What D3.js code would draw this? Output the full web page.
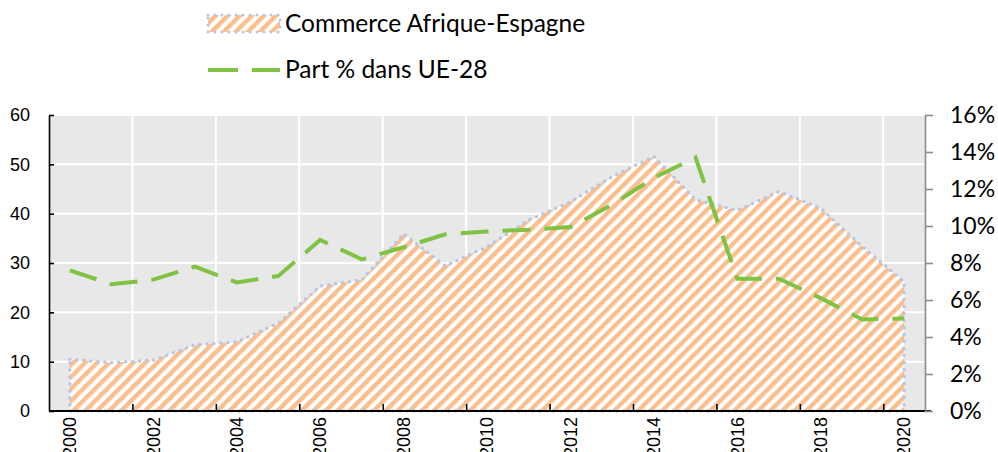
<!DOCTYPE html>
<html>
<head>
<meta charset="utf-8">
<script src="https://cdn.jsdelivr.net/npm/d3@7"></script>
<style>
  body { margin: 0; background: #fff; }
  svg { display: block; }
</style>
</head>
<body>
<div id="chart"></div>
<script>
// years on the category axis
const years = d3.range(2000, 2021)
// Commerce Afrique-Espagne (left axis)
const commerce = [10.5, 9.8, 10.3, 13.4, 14.0, 17.8, 25.3, 26.6, 35.9, 29.4, 33.3,
                  38.7, 42.4, 47.5, 51.6, 42.8, 40.7, 44.5, 41.1, 33.3, 26.2]
// Part % dans UE-28 (right axis)
const part = [7.6, 6.85, 7.1, 7.8, 6.95, 7.3, 9.25, 8.2, 8.85, 9.55, 9.7,
              9.8, 9.95, 11.15, 12.6, 13.7, 7.15, 7.15, 6.1, 4.95, 5.0]
const leftTicks = [0, 10, 20, 30, 40, 50, 60]
const rightTicks = [0, 2, 4, 6, 8, 10, 12, 14, 16]
const legendLabels = ["Commerce Afrique-Espagne", "Part % dans UE-28"]

const W = 998, H = 452
const plot = {left: 49, right: 925, top: 115, bottom: 411}
const green = "#80c242", orange = "#fbbf8e", dotBlue = "#b4c7e7"

const svg = d3.select("#chart").append("svg")
    .attr("width", W).attr("height", H)

// hatch pattern
const defs = svg.append("defs")
const pat = defs.append("pattern")
    .attr("id", "hatch")
    .attr("patternUnits", "userSpaceOnUse")
    .attr("width", 8.5).attr("height", 8.5)
    .attr("patternTransform", "rotate(45)")
pat.append("rect").attr("width", 8.5).attr("height", 8.5).attr("fill", "#fff")
pat.append("rect").attr("width", 4.4).attr("height", 8.5).attr("fill", orange)

const x = d3.scaleBand().domain(years).range([plot.left, plot.right])
const xc = d => x(d) + x.bandwidth() / 2
const xIdx = d3.scaleLinear().domain([0, years.length]).range([plot.left, plot.right])
const y = d3.scaleLinear().domain([0, 60]).range([plot.bottom, plot.top])
const yR = d3.scaleLinear().domain([0, 16]).range([plot.bottom, plot.top])

// background + grid
svg.append("rect")
    .attr("x", plot.left).attr("y", plot.top)
    .attr("width", plot.right - plot.left).attr("height", plot.bottom - plot.top)
    .attr("fill", "#e8e8e8")

const gridIdx = d3.range(2, years.length, 2)
svg.append("g").selectAll("line").data(gridIdx).join("line")
    .attr("x1", d => xIdx(d)).attr("x2", d => xIdx(d))
    .attr("y1", plot.top).attr("y2", plot.bottom)
    .attr("stroke", "#fff").attr("stroke-width", 2)
svg.append("g").selectAll("line").data(leftTicks.slice(1)).join("line")
    .attr("x1", plot.left).attr("x2", plot.right)
    .attr("y1", d => y(d)).attr("y2", d => y(d))
    .attr("stroke", "#fff").attr("stroke-width", 2)

// area
const areaGen = d3.area()
    .x((d, i) => xc(years[i]))
    .y0(y(0))
    .y1(d => y(d))
svg.append("path")
    .datum(commerce)
    .attr("d", areaGen)
    .attr("fill", "url(#hatch)")
    .attr("stroke", dotBlue)
    .attr("stroke-width", 3.5)
    .attr("stroke-linecap", "round")
    .attr("stroke-dasharray", "0 7")

// axes
const fontAxis = "'Liberation Sans', Arial, sans-serif"
const fontCal = "Lato, 'Open Sans', sans-serif"

const gL = svg.append("g")
    .attr("transform", `translate(${plot.left},0)`)
    .call(d3.axisLeft(y).tickValues(leftTicks).tickSizeInner(-5).tickSizeOuter(0).tickPadding(19))
gL.select(".domain").attr("stroke", "#000").attr("stroke-width", 1.6)
gL.selectAll(".tick line").attr("stroke", "#000").attr("stroke-width", 1.6)
gL.selectAll("text").attr("font-family", fontAxis).attr("font-size", 18).attr("fill", "#000")

// bottom tick marks (between categories)
const gB = svg.append("g")
    .attr("transform", `translate(0,${plot.bottom})`)
    .call(d3.axisBottom(xIdx).tickValues(gridIdx).tickSizeInner(-7).tickSizeOuter(0).tickFormat(""))
gB.select(".domain").remove()
gB.selectAll(".tick line").attr("stroke", "#000").attr("stroke-width", 1.6)

// bottom labels at category centres
const gBL = svg.append("g")
    .attr("transform", `translate(0,${plot.bottom})`)
    .call(d3.axisBottom(x).tickValues(years.filter(d => d % 2 === 0)).tickSize(0).tickPadding(0))
gBL.select(".domain").attr("stroke", "#000").attr("stroke-width", 2)
    .attr("d", `M${plot.left},0H${plot.right + 6}`)
gBL.selectAll("text")
    .attr("font-family", fontAxis).attr("font-size", 18).attr("fill", "#000")
    .attr("transform", "rotate(-90)")
    .attr("text-anchor", "end")
    .attr("x", -6).attr("y", 0).attr("dy", "0.35em")

// right axis
const gR = svg.append("g")
    .attr("transform", `translate(${plot.right},0)`)
    .call(d3.axisRight(yR).tickValues(rightTicks).tickSizeInner(8).tickSizeOuter(0).tickPadding(17)
        .tickFormat(d => d + "%"))
gR.select(".domain").attr("stroke", "#8c8c8c").attr("stroke-width", 1.6)
gR.selectAll(".tick line").attr("stroke", "#8c8c8c").attr("stroke-width", 1.6)
gR.selectAll("text").attr("font-family", fontCal).attr("font-size", 23).attr("fill", "#000")

// green line
const lineGen = d3.line()
    .x((d, i) => xc(years[i]))
    .y(d => yR(d))
svg.append("path")
    .datum(part)
    .attr("d", lineGen)
    .attr("fill", "none")
    .attr("stroke", green)
    .attr("stroke-width", 4)
    .attr("stroke-dasharray", "28 14")

// legend
const lg = svg.append("g")
lg.append("rect")
    .attr("x", 208).attr("y", 15).attr("width", 72).attr("height", 17)
    .attr("fill", "url(#hatch)")
    .attr("stroke", dotBlue).attr("stroke-width", 3)
    .attr("stroke-linecap", "round").attr("stroke-dasharray", "0 7")
lg.append("line")
    .attr("x1", 208).attr("x2", 280).attr("y1", 70).attr("y2", 70)
    .attr("stroke", green).attr("stroke-width", 4)
    .attr("stroke-dasharray", "30 14")
lg.selectAll("text").data(legendLabels).join("text")
    .attr("x", 285)
    .attr("y", (d, i) => i === 0 ? 32 : 78)
    .attr("font-family", fontCal).attr("font-size", 24.5).attr("fill", "#000")
    .text(d => d)
</script>
</body>
</html>
